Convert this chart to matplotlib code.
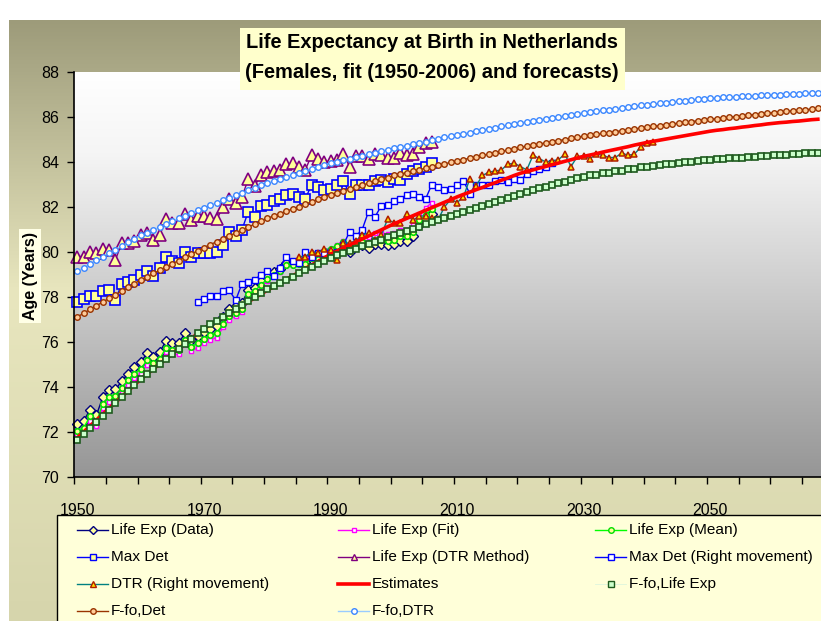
import numpy as np
import matplotlib.pyplot as plt
from matplotlib.lines import Line2D
from matplotlib.patches import Rectangle

plt.rcParams['font.family'] = ['Liberation Sans', 'DejaVu Sans']

# ---------------- data ----------------
years_obs = list(range(1950, 2007))
years_all = list(range(1950, 2068))

life_exp_data = [
    72.35, 72.5, 73.0, 72.75, 73.55, 73.85, 73.9, 74.25, 74.6, 74.9,
    75.1, 75.5, 75.35, 75.55, 76.05, 75.95, 75.95, 76.4, 76.1, 76.25,
    76.45, 76.6, 76.7, 77.1, 77.45, 77.6, 77.75, 78.3, 78.4, 78.7,
    78.9, 79.1, 79.25, 79.5, 79.5, 79.55, 79.55, 79.85, 79.8, 79.95,
    80.0, 80.1, 80.3, 80.0, 80.3, 80.3, 80.2, 80.35, 80.35, 80.3,
    80.35, 80.5, 80.5, 80.7, 81.2, 81.45, 81.7]

life_exp_fit = [
    71.85, 72.0, 72.5, 72.25, 73.05, 73.35, 73.4, 73.75, 74.1, 74.4,
    74.6, 75.0, 74.85, 75.05, 75.55, 75.45, 75.45, 75.9, 75.6, 75.75,
    75.95, 76.1, 76.2, 76.65, 77.0, 77.15, 77.35, 77.95, 78.1, 78.45,
    78.7, 78.95, 79.1, 79.4, 79.45, 79.55, 79.6, 79.9, 79.9, 80.05,
    80.15, 80.3, 80.5, 80.25, 80.6, 80.65, 80.65, 80.85, 80.85, 80.8,
    80.85, 81.0, 81.0, 81.2, 81.7, 81.95, 82.2]

life_exp_mean = [
    72.05, 72.2, 72.7, 72.45, 73.25, 73.55, 73.6, 73.95, 74.3, 74.6,
    74.8, 75.2, 75.05, 75.25, 75.75, 75.65, 75.65, 76.1, 75.8, 75.95,
    76.15, 76.3, 76.4, 76.8, 77.15, 77.3, 77.45, 78.15, 78.25, 78.55,
    78.8, 79.0, 79.15, 79.4, 79.4, 79.45, 79.45, 79.75, 79.7, 79.85,
    80.15, 80.25, 80.45, 80.15, 80.45, 80.45, 80.4, 80.55, 80.55, 80.5,
    80.55, 80.7, 80.7, 80.9, 81.4, 81.65, 81.9]

max_det = [
    77.8, 77.9, 78.05, 78.05, 78.25, 78.3, 77.85, 78.6, 78.65, 78.75,
    79.0, 79.15, 78.95, 79.3, 79.8, 79.6, 79.5, 80.0, 79.8, 79.95,
    79.95, 79.95, 80.0, 80.3, 80.9, 80.7, 81.0, 81.8, 81.55, 82.05,
    82.1, 82.25, 82.35, 82.55, 82.6, 82.45, 82.35, 83.0, 82.9, 82.75,
    82.8, 83.0, 83.15, 82.6, 83.0, 83.0, 83.0, 83.15, 83.2, 83.1,
    83.25, 83.2, 83.45, 83.6, 83.7, 83.8, 83.95]

dtr_method = [
    79.8, 79.8, 80.0, 79.95, 80.15, 80.1, 79.65, 80.4, 80.4, 80.5,
    80.75, 80.85, 80.55, 80.75, 81.45, 81.3, 81.3, 81.7, 81.4, 81.6,
    81.6, 81.5, 81.45, 82.0, 82.35, 82.2, 82.45, 83.25, 82.95, 83.4,
    83.55, 83.6, 83.65, 83.9, 83.95, 83.8, 83.65, 84.3, 84.15, 84.0,
    84.05, 84.1, 84.35, 83.8, 84.25, 84.25, 84.15, 84.35, 84.3, 84.2,
    84.2, 84.4, 84.3, 84.35, 84.65, 84.85, 84.9]

# the "right movement" series are the same values moved to later years
maxdet_shift = 19
dtr_shift = 35
years_maxdet_rm = [y + maxdet_shift for y in years_obs]
years_dtr_rm = [y + dtr_shift for y in years_obs]

estimates = [
    71.75, 72.01, 72.27, 72.53, 72.79, 73.05, 73.31, 73.57, 73.83, 74.09,
    74.35, 74.58, 74.80, 75.03, 75.25, 75.48, 75.70, 75.93, 76.15, 76.38,
    76.60, 76.77, 76.94, 77.11, 77.28, 77.45, 77.62, 77.79, 77.96, 78.13,
    78.30, 78.46, 78.62, 78.78, 78.94, 79.10, 79.26, 79.42, 79.58, 79.74,
    79.90, 80.04, 80.17, 80.31, 80.44, 80.58, 80.71, 80.85, 80.98, 81.12,
    81.25, 81.37, 81.49, 81.61, 81.73, 81.85, 81.97, 82.09, 82.21, 82.33,
    82.45, 82.56, 82.66, 82.77, 82.87, 82.98, 83.08, 83.19, 83.29, 83.40,
    83.50, 83.58, 83.65, 83.73, 83.80, 83.88, 83.95, 84.03, 84.10, 84.18,
    84.25, 84.31, 84.37, 84.44, 84.50, 84.56, 84.62, 84.68, 84.75, 84.81,
    84.87, 84.92, 84.97, 85.02, 85.07, 85.12, 85.17, 85.22, 85.27, 85.32,
    85.37, 85.41, 85.44, 85.48, 85.51, 85.55, 85.58, 85.62, 85.65, 85.69,
    85.72, 85.75, 85.77, 85.80, 85.82, 85.85, 85.88, 85.90]

ffo_life_exp = [
    71.65, 71.92, 72.19, 72.46, 72.73, 73.00, 73.27, 73.54, 73.81, 74.08,
    74.35, 74.58, 74.80, 75.03, 75.25, 75.48, 75.70, 75.93, 76.15, 76.38,
    76.60, 76.78, 76.95, 77.13, 77.30, 77.48, 77.65, 77.83, 78.00, 78.18,
    78.35, 78.49, 78.63, 78.77, 78.91, 79.05, 79.19, 79.33, 79.47, 79.61,
    79.75, 79.85, 79.95, 80.05, 80.15, 80.25, 80.35, 80.45, 80.55, 80.65,
    80.75, 80.85, 80.94, 81.04, 81.13, 81.23, 81.32, 81.42, 81.51, 81.61,
    81.70, 81.79, 81.88, 81.97, 82.06, 82.15, 82.24, 82.33, 82.42, 82.51,
    82.60, 82.68, 82.75, 82.83, 82.90, 82.98, 83.05, 83.13, 83.20, 83.28,
    83.35, 83.40, 83.44, 83.49, 83.53, 83.58, 83.62, 83.67, 83.71, 83.76,
    83.80, 83.83, 83.86, 83.89, 83.92, 83.95, 83.98, 84.01, 84.04, 84.07,
    84.10, 84.12, 84.14, 84.16, 84.18, 84.20, 84.22, 84.24, 84.26, 84.28,
    84.30, 84.32, 84.33, 84.35, 84.37, 84.39, 84.40, 84.42]

ffo_det = [
    77.12, 77.28, 77.45, 77.61, 77.78, 77.94, 78.10, 78.27, 78.43, 78.60,
    78.76, 78.90, 79.05, 79.19, 79.34, 79.48, 79.62, 79.77, 79.91, 80.06,
    80.20, 80.33, 80.46, 80.59, 80.72, 80.85, 80.98, 81.11, 81.24, 81.37,
    81.50, 81.60, 81.71, 81.81, 81.92, 82.02, 82.13, 82.23, 82.34, 82.44,
    82.55, 82.63, 82.72, 82.80, 82.89, 82.97, 83.06, 83.14, 83.23, 83.31,
    83.40, 83.46, 83.53, 83.59, 83.66, 83.72, 83.79, 83.85, 83.92, 83.98,
    84.05, 84.11, 84.17, 84.23, 84.29, 84.35, 84.41, 84.47, 84.53, 84.59,
    84.65, 84.70, 84.75, 84.80, 84.85, 84.90, 84.95, 85.00, 85.05, 85.10,
    85.15, 85.19, 85.23, 85.27, 85.31, 85.35, 85.39, 85.43, 85.47, 85.51,
    85.55, 85.59, 85.62, 85.66, 85.69, 85.73, 85.76, 85.80, 85.83, 85.87,
    85.90, 85.93, 85.96, 85.99, 86.02, 86.05, 86.08, 86.11, 86.14, 86.17,
    86.20, 86.23, 86.25, 86.28, 86.30, 86.33, 86.35, 86.38]

ffo_dtr = [
    79.15, 79.31, 79.47, 79.63, 79.79, 79.95, 80.11, 80.27, 80.43, 80.59,
    80.74, 80.86, 80.99, 81.11, 81.24, 81.36, 81.49, 81.61, 81.74, 81.86,
    81.97, 82.08, 82.19, 82.30, 82.41, 82.52, 82.63, 82.74, 82.85, 82.96,
    83.05, 83.14, 83.23, 83.32, 83.41, 83.50, 83.59, 83.68, 83.77, 83.86,
    83.94, 84.01, 84.08, 84.14, 84.21, 84.28, 84.35, 84.42, 84.48, 84.55,
    84.61, 84.67, 84.73, 84.79, 84.85, 84.91, 84.97, 85.03, 85.09, 85.15,
    85.20, 85.26, 85.31, 85.37, 85.42, 85.48, 85.53, 85.59, 85.64, 85.70,
    85.74, 85.79, 85.83, 85.88, 85.92, 85.97, 86.01, 86.06, 86.10, 86.15,
    86.18, 86.22, 86.26, 86.29, 86.33, 86.37, 86.40, 86.44, 86.48, 86.52,
    86.55, 86.58, 86.61, 86.64, 86.67, 86.70, 86.73, 86.76, 86.79, 86.82,
    86.84, 86.86, 86.87, 86.89, 86.90, 86.92, 86.93, 86.95, 86.96, 86.98,
    86.99, 87.00, 87.02, 87.03, 87.04, 87.05, 87.07, 87.08]

x_labels = [1950, 1970, 1990, 2010, 2030, 2050]
y_ticks = list(range(70, 89, 2))

# ---------------- series styles ----------------
YEL = '#FFFF99'
series = [
    ('Life Exp (Data)', years_obs, life_exp_data,
     dict(color='#000080', lw=1.0, marker='D', ms=5.5, mfc=YEL, mec='#000080', mew=1.0)),
    ('Life Exp (Fit)', years_obs, life_exp_fit,
     dict(color='#FF00FF', lw=1.0, marker='s', ms=3.5, mfc='white', mec='#FF00FF', mew=1.0)),
    ('Life Exp (Mean)', years_obs, life_exp_mean,
     dict(color='#00FF00', lw=1.0, marker='o', ms=4, mfc=YEL, mec='#00DD00', mew=1.2)),
    ('Max Det', years_obs, max_det,
     dict(color='#0000FF', lw=1.0, marker='s', ms=7, mfc=YEL, mec='#0000FF', mew=1.2)),
    ('Life Exp (DTR Method)', years_obs, dtr_method,
     dict(color='#800080', lw=1.0, marker='^', ms=8, mfc=YEL, mec='#800080', mew=1.2)),
    ('Max Det (Right movement)', years_maxdet_rm, max_det,
     dict(color='#0000FF', lw=1.0, marker='s', ms=4, mfc='white', mec='#0000FF', mew=1.0)),
    ('DTR (Right movement)', years_dtr_rm, dtr_method,
     dict(color='#008080', lw=1.0, marker='^', ms=5, mfc='#FFE000', mec='#B01E00', mew=1.1)),
    ('Estimates', years_all, estimates,
     dict(color='#FF0000', lw=2.6)),
    ('F-fo,Life Exp', years_all, ffo_life_exp,
     dict(color='#DDF5DD', lw=0.6, marker='s', ms=4, mfc='#CCFFCC', mec='#1E5A1E', mew=1.2)),
    ('F-fo,Det', years_all, ffo_det,
     dict(color='#993300', lw=1.0, marker='o', ms=4, mfc='#FFCC99', mec='#993300', mew=1.0)),
    ('F-fo,DTR', years_all, ffo_dtr,
     dict(color='#99CCFF', lw=1.0, marker='o', ms=4, mfc='white', mec='#3A86FF', mew=1.0)),
]

# ---------------- figure ----------------
W, H = 821, 621
fig = plt.figure(figsize=(W / 100, H / 100), dpi=100)
fig.patch.set_facecolor('white')

# background canvas in pixel coordinates
bg = fig.add_axes([0, 0, 1, 1], zorder=-10)
bg.set_xlim(0, W)
bg.set_ylim(H, 0)
bg.axis('off')

# chart area gradient: olive at top, lighter towards the bottom
rows = np.linspace(0, 1, 300)
stops = [0.0, 0.45, 1.0]
cols = np.array([[157, 155, 122], [232, 230, 190], [214, 213, 172]]) / 255
grad = np.stack([np.interp(rows, stops, cols[:, k]) for k in range(3)], axis=-1)
bg.imshow(grad[:, None, :], extent=[9, W, H, 20], aspect='auto', zorder=0)

# plot area gradient: white at top to grey at bottom
prow = np.linspace(0, 1, 300)
pstops = [0.0, 0.2, 1.0]
pcols = np.array([[255, 255, 255], [245, 245, 245], [150, 150, 150]]) / 255
pgrad = np.stack([np.interp(prow, pstops, pcols[:, k]) for k in range(3)], axis=-1)
PL, PR, PT, PB = 74.3, 821.0, 72.0, 477.0
bg.imshow(pgrad[:, None, :], extent=[PL, PR, PB, PT], aspect='auto', zorder=1)

ax = fig.add_axes([PL / W, 1 - PB / H, (PR - PL) / W, (PB - PT) / H])
ax.set_facecolor('none')

for name, xs, ys, st in series:
    ax.plot(xs, ys, label=name, clip_on=False, **st)

ax.set_xlim(1949.5, 2067.5)
ax.set_ylim(70, 88)
for s in ['top', 'right']:
    ax.spines[s].set_visible(False)
for s in ['left', 'bottom']:
    ax.spines[s].set_linewidth(1.2)

ax.set_yticks(y_ticks)
ax.tick_params(axis='y', direction='out', length=5, width=1, pad=6, labelsize=11.5)
ax.set_xticks(x_labels)
ax.set_xticks(np.arange(1949.5, 2067, 5), minor=True)
ax.tick_params(axis='x', which='major', length=0, pad=19, labelsize=11.5)
ax.tick_params(axis='x', which='minor', direction='out', length=5, width=1)

fig.text(30 / W, 1 - 276 / H, 'Age (Years)', rotation=90, ha='center', va='center',
         fontsize=11.5, fontweight='bold',
         bbox=dict(boxstyle='square,pad=0.2', fc='#FFFFE6', ec='none'))

# title box
bg.add_patch(Rectangle((240, 28), 385, 62, fc='#FFFFCC', ec='none', zorder=3))
bg.text(432, 43, 'Life Expectancy at Birth in Netherlands', ha='center', va='center',
        fontsize=14.4, fontweight='bold', zorder=4)
bg.text(432, 73, '(Females, fit (1950-2006) and forecasts)', ha='center', va='center',
        fontsize=14.4, fontweight='bold', zorder=4)

# legend box drawn by hand so the layout follows the original rows
bg.add_patch(Rectangle((57, 515), 800, 130, fc='#FFFFD9', ec='black', lw=1, zorder=3))
col_x = [77, 338, 595]
row_y = [530, 557, 584, 611]
for i, (name, xs, ys, st) in enumerate(series):
    r, c = divmod(i, 3)
    x0 = col_x[c]
    y0 = row_y[r]
    st2 = dict(st)
    ms = st2.pop('ms', None)
    line = Line2D([x0, x0 + 31], [y0, y0], transform=bg.transData, zorder=4,
                  **{k: v for k, v in st2.items() if k not in ('marker', 'mfc', 'mec', 'mew')})
    bg.add_line(line)
    if 'marker' in st:
        bg.plot([x0 + 15.5], [y0], marker=st['marker'], ms=min(ms, 4.5), mfc=st['mfc'],
                mec=st['mec'], mew=1.0, ls='none', zorder=5)
    bg.text(x0 + 34, y0, name, ha='left', va='center', fontsize=11.1, zorder=5)

fig.savefig('out.png', dpi=100, facecolor='white')
